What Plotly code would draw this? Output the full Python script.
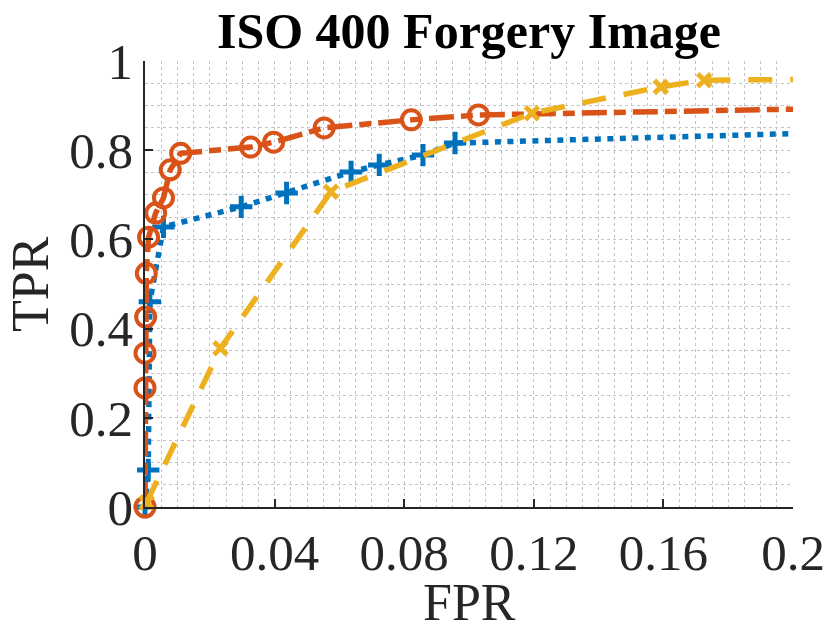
import plotly.graph_objects as go

# ROC points (the last point of each curve lies past the x range)
blue_fpr = [0, 0.001, 0.0015, 0.0057, 0.0297, 0.0437, 0.0636, 0.0723, 0.0858, 0.0957, 1.0]
blue_tpr = [0, 0.083, 0.46, 0.628, 0.673, 0.704, 0.751, 0.767, 0.789, 0.816, 1.0]

orange_fpr = [0, 0, 0, 0.0002, 0.0004, 0.0011, 0.0033, 0.0057, 0.0078, 0.011,
              0.0326, 0.0397, 0.0553, 0.0822, 0.1029, 1.0]
orange_tpr = [0, 0.267, 0.345, 0.426, 0.524, 0.605, 0.659, 0.693, 0.756, 0.793,
              0.807, 0.818, 0.850, 0.868, 0.879, 1.0]

yellow_fpr = [0.0005, 0.0233, 0.0574, 0.1194, 0.1592, 0.1726, 1.0]
yellow_tpr = [0.01, 0.356, 0.707, 0.883, 0.942, 0.957, 1.0]

x_ticks = [0, 0.04, 0.08, 0.12, 0.16, 0.2]
x_ticklabels = ["0", "0.04", "0.08", "0.12", "0.16", "0.2"]
y_ticks = [0, 0.2, 0.4, 0.6, 0.8, 1]
y_ticklabels = ["0", "0.2", "0.4", "0.6", "0.8", "1"]

BLUE = "#0072BD"
ORANGE = "#D95319"
YELLOW = "#EDB120"
SERIF = "Liberation Serif"

W, H = 830, 635
L, R, T, B = 145, 37, 61, 128
PW, PH = W - L - R, H - T - B


def sizes(n, s):
    # no marker on the far end point
    return [s] * (n - 1) + [0]


fig = go.Figure()

fig.add_trace(go.Scatter(
    x=blue_fpr, y=blue_tpr, mode="lines+markers", cliponaxis=False,
    line=dict(color=BLUE, width=5.5, dash="6px,6.5px"),
    marker=dict(symbol="cross-thin-open", size=sizes(len(blue_fpr), 16), color=BLUE,
                opacity=1, line=dict(color=BLUE, width=5)),
    showlegend=False,
))

fig.add_trace(go.Scatter(
    x=orange_fpr, y=orange_tpr, mode="lines+markers", cliponaxis=False,
    line=dict(color=ORANGE, width=5.5, dash="25px,7px,12px,7px"),
    marker=dict(symbol="circle-open", size=sizes(len(orange_fpr), 19), color=ORANGE,
                opacity=1, line=dict(color=ORANGE, width=4)),
    showlegend=False,
))

fig.add_trace(go.Scatter(
    x=yellow_fpr, y=yellow_tpr, mode="lines+markers", cliponaxis=False,
    line=dict(color=YELLOW, width=5.5, dash="24px,18px"),
    marker=dict(symbol="x-thin-open", size=sizes(len(yellow_fpr), 13), color=YELLOW,
                opacity=1, line=dict(color=YELLOW, width=5)),
    showlegend=False,
))

axis_common = dict(
    showline=True, linecolor="#262626", linewidth=1.5, mirror=False,
    ticks="inside", ticklen=8, tickcolor="#262626", tickwidth=1.5,
    showgrid=True, gridcolor="#c4c4c4", gridwidth=1, griddash="dot",
    zeroline=False, automargin=False,
    tickfont=dict(family=SERIF, size=51, color="#262626"),
)

fig.update_xaxes(
    range=[0, 0.2], tickvals=x_ticks, ticktext=x_ticklabels,
    minor=dict(dtick=0.005, tick0=0, showgrid=True, gridcolor="#c4c4c4",
               gridwidth=1, griddash="dot", ticks=""),
    **axis_common,
)
fig.update_yaxes(
    range=[0, 1], tickvals=y_ticks, ticktext=y_ticklabels,
    minor=dict(dtick=0.05, tick0=0, showgrid=True, gridcolor="#c4c4c4",
               gridwidth=1, griddash="dot", ticks=""),
    **axis_common,
)

label_font = dict(family=SERIF, size=52, color="#262626")
fig.add_annotation(text="FPR", xref="paper", yref="paper",
                   x=(469 - L) / PW, y=(H - B - 602) / PH,
                   xanchor="center", yanchor="middle", showarrow=False, font=label_font)
fig.add_annotation(text="TPR", xref="paper", yref="paper",
                   x=(30 - L) / PW, y=(H - B - 284) / PH, textangle=-90,
                   xanchor="center", yanchor="middle", showarrow=False, font=label_font)

fig.update_layout(
    width=W, height=H,
    margin=dict(l=L, r=R, t=T, b=B),
    plot_bgcolor="white", paper_bgcolor="white",
    title=dict(text="<b>ISO 400 Forgery Image</b>", x=469 / W, xanchor="center",
               y=1 - 30 / H, yanchor="middle",
               font=dict(family=SERIF, size=50, color="black")),
)

fig.write_html("out.html", config={"displayModeBar": False},
               post_script="document.body.style.margin='0';")
